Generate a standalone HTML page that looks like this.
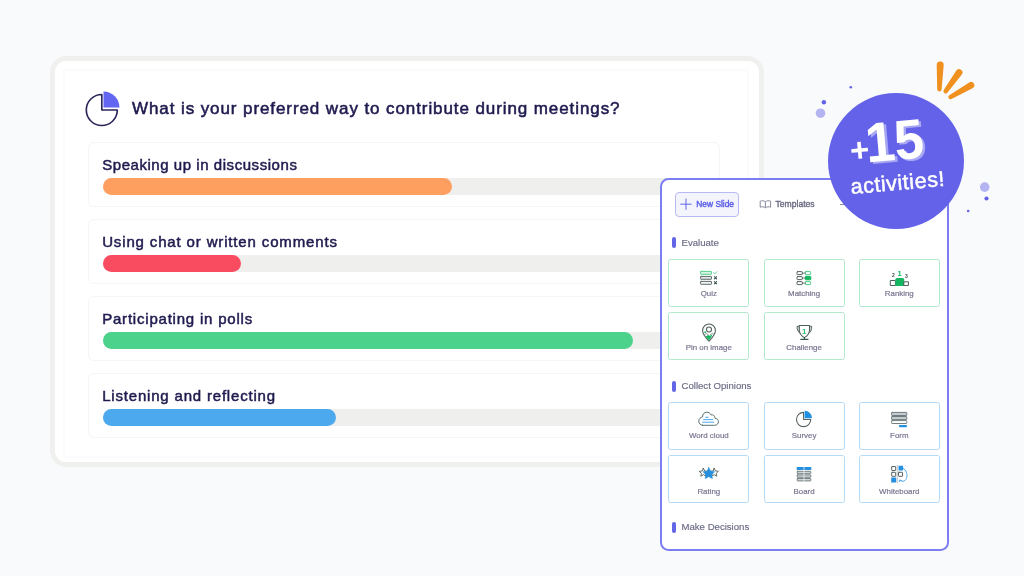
<!DOCTYPE html>
<html lang="en">
<head>
<meta charset="utf-8">
<title>+15 activities</title>
<style>
*{box-sizing:border-box;margin:0;padding:0}
html,body{width:1024px;height:576px;overflow:hidden}
body{background:#f9fafc;font-family:"Liberation Sans",sans-serif;position:relative}
.abs{position:absolute}
.root{position:absolute;left:0;top:0;width:1024px;height:576px;overflow:hidden;will-change:transform}
/* results card */
.card{position:absolute;left:50px;top:56px;width:714px;height:411px;border:5px solid #f0f0ee;border-radius:16px;background:#fff}
.inner{position:absolute;left:63px;top:69px;width:686px;height:388.5px;border:2px solid #fafbfc;border-radius:2px}
.title{position:absolute;left:132px;top:97px;font-weight:normal;font-size:17px;line-height:24px;color:#1f1b4f;-webkit-text-stroke:0.55px #1f1b4f;letter-spacing:0.91px;white-space:nowrap}
.opt{position:absolute;left:87.5px;width:632.5px;height:65px;border:1px solid #f5f5f2;border-radius:6px;background:#fff}
.opt .lbl{position:absolute;left:13.7px;top:11.8px;font-weight:normal;font-size:15px;line-height:20px;color:#1f1b4f;-webkit-text-stroke:0.5px #1f1b4f;white-space:nowrap}
.opt .track{position:absolute;left:14px;top:35px;width:603px;height:17px;border-radius:8.5px;background:#efefed}
.opt .fill{position:absolute;left:0;top:0;height:17px;border-radius:8.5px}
/* panel */
.panel{position:absolute;left:659.5px;top:177.5px;width:289.5px;height:373px;border:2px solid #7b7df0;border-radius:8.5px;background:#fff}
.btn{position:absolute;left:675px;top:192px;width:64px;height:24.5px;border:1px solid #b9baf3;border-radius:4px;background:#f4f4fd}
.btntxt{position:absolute;left:696.3px;top:198.2px;font-size:8.4px;font-weight:normal;color:#5b5ee6;-webkit-text-stroke:0.4px #5b5ee6;line-height:12px;white-space:nowrap}
.tpl{position:absolute;left:775.5px;top:197.8px;font-size:8.6px;font-weight:normal;color:#6a6a82;-webkit-text-stroke:0.35px #6a6a82;line-height:12px;white-space:nowrap}
.sec{position:absolute;left:672px;width:3.7px;height:11px;border-radius:2px;background:#6366e6}
.sect{position:absolute;left:681.5px;font-size:9.6px;color:#6a6a84;-webkit-text-stroke:0.15px #6a6a84;line-height:12px;white-space:nowrap}
.tile{position:absolute;width:81px;height:48px;border:1px solid #b2e9cd;border-radius:2.5px;background:#fff}
.tile.b{border-color:#b4daf6}
.tl{position:absolute;font-size:7.9px;color:#787690;-webkit-text-stroke:0.2px #787690;line-height:10px;white-space:nowrap;text-align:center;width:80px}
/* badge */
.badge{position:absolute;left:828px;top:92.8px;width:135.8px;height:135.8px;border-radius:50%;background:#6462e8}
</style>
</head>
<body>
<div class="root">
<div class="card"></div>
<div class="inner"></div>

<svg class="abs" style="left:80px;top:86px" width="44" height="44" viewBox="80 86 44 44">
  <path d="M101.8 94.5 A15.5 15.5 0 1 0 117.3 110 L101.8 110 Z" fill="none" stroke="#2b2659" stroke-width="1.65" stroke-linejoin="round"/>
  <path d="M103.5 91.5 A16 16 0 0 1 119.5 107.5 L103.5 107.5 Z" fill="#6366f1"/>
</svg>
<div class="title">What is your preferred way to contribute during meetings?</div>

<div class="opt" style="top:142px"><div class="lbl" style="letter-spacing:0.55px">Speaking up in discussions</div><div class="track"><div class="fill" style="width:349.5px;background:#fe9f60"></div></div></div>
<div class="opt" style="top:219px"><div class="lbl" style="letter-spacing:0.85px">Using chat or written comments</div><div class="track"><div class="fill" style="width:138.2px;background:#f94c61"></div></div></div>
<div class="opt" style="top:296px"><div class="lbl" style="letter-spacing:0.79px">Participating in polls</div><div class="track"><div class="fill" style="width:530px;background:#4cd28b"></div></div></div>
<div class="opt" style="top:373px"><div class="lbl" style="letter-spacing:0.81px">Listening and reflecting</div><div class="track"><div class="fill" style="width:233.5px;background:#4ca9ee"></div></div></div>

<div class="panel"></div>
<div class="btn"></div>
<svg class="abs" style="left:679px;top:198px" width="14" height="13" viewBox="0 0 14 13"><path d="M1.3 6.2H12.6M7 0.6V11.8" stroke="#6366e6" stroke-width="1" fill="none"/></svg>
<div class="btntxt">New Slide</div>
<svg class="abs" style="left:759px;top:199px" width="13" height="10" viewBox="0 0 13 10"><path d="M1.2 2.2C3 1.4 5 1.6 6.4 2.8C7.8 1.6 9.8 1.4 11.6 2.2V8.2C9.8 7.5 7.8 7.7 6.4 8.8C5 7.7 3 7.5 1.2 8.2Z M6.4 2.8V8.8" stroke="#7c7c92" stroke-width="0.9" fill="none" stroke-linejoin="round"/></svg>
<div class="tpl">Templates</div>
<div class="abs" style="left:840px;top:203.5px;width:9px;height:1px;background:#8a8a99"></div>

<div class="sec" style="top:237.2px"></div><div class="sect" style="top:236.8px">Evaluate</div>
<div class="tile" style="left:668px;top:259px"></div>
<div class="tile" style="left:764px;top:259px"></div>
<div class="tile" style="left:859px;top:259px"></div>
<div class="tile" style="left:668px;top:312px"></div>
<div class="tile" style="left:764px;top:312px"></div>
<div class="tl" style="left:668.8px;top:288.5px">Quiz</div>
<div class="tl" style="left:764.1px;top:288.5px">Matching</div>
<div class="tl" style="left:859.3px;top:288.5px">Ranking</div>
<div class="tl" style="left:668.8px;top:343px">Pin on image</div>
<div class="tl" style="left:764.1px;top:342.6px">Challenge</div>

<div class="sec" style="top:380.5px"></div><div class="sect" style="top:379.6px">Collect Opinions</div>
<div class="tile b" style="left:668px;top:402px"></div>
<div class="tile b" style="left:764px;top:402px"></div>
<div class="tile b" style="left:859px;top:402px"></div>
<div class="tile b" style="left:668px;top:455px"></div>
<div class="tile b" style="left:764px;top:455px"></div>
<div class="tile b" style="left:859px;top:455px"></div>
<div class="tl" style="left:668.8px;top:431px">Word cloud</div>
<div class="tl" style="left:764.1px;top:431px">Survey</div>
<div class="tl" style="left:859.3px;top:431px">Form</div>
<div class="tl" style="left:668.8px;top:487.2px">Rating</div>
<div class="tl" style="left:764.1px;top:487.2px">Board</div>
<div class="tl" style="left:859.3px;top:487.2px">Whiteboard</div>

<div class="sec" style="top:521.6px"></div><div class="sect" style="top:520.8px">Make Decisions</div>

<svg class="abs" style="left:0;top:0" width="1024" height="576" viewBox="0 0 1024 576" fill="none">
<g stroke-width="1" stroke-linejoin="round" stroke-linecap="round">
<!-- Quiz -->
<rect x="700.6" y="271.4" width="10.9" height="2.9" rx="0.5" fill="#d6f4e4" stroke="#4fcf89" stroke-width="0.95"/>
<rect x="700.6" y="276.4" width="10.9" height="2.9" rx="0.5" fill="#dde2e3" stroke="#5b6664" stroke-width="0.95"/>
<rect x="700.6" y="281.4" width="10.9" height="2.9" rx="0.5" fill="#f1f4f4" stroke="#5b6664" stroke-width="0.95"/>
<path d="M713.5 272.8L714.7 273.9L716.8 271.8" stroke="#4fcf89" stroke-width="0.95"/>
<path d="M714.4 276.7L716.6 278.9M716.6 276.7L714.4 278.9M714.4 281.6L716.6 283.8M716.6 281.6L714.4 283.8" stroke="#34504a" stroke-width="1.05"/>
<!-- Matching -->
<rect x="797" y="271.6" width="5.3" height="3" rx="0.6" fill="#fff" stroke="#56625f"/>
<rect x="797" y="276.6" width="5.3" height="3" rx="0.6" fill="#fff" stroke="#56625f"/>
<rect x="797" y="281.6" width="5.3" height="3" rx="0.6" fill="#fff" stroke="#56625f"/>
<rect x="805.3" y="271.6" width="5.3" height="3" rx="0.6" fill="#fff" stroke="#4fcf89"/>
<rect x="805.3" y="276.4" width="5.5" height="3.4" rx="0.6" fill="#14b760" stroke="#14b760"/>
<rect x="805.3" y="281.6" width="5.3" height="3" rx="0.6" fill="#fff" stroke="#4fcf89"/>
<path d="M802.3 273.1H805.3M802.3 278.1H805.3M802.3 283.1H805.3" stroke="#56625f" stroke-width="0.8"/>
<!-- Ranking -->
<rect x="890.7" y="280.5" width="4.7" height="5" fill="#fff" stroke="#4f5f5a"/>
<path d="M895.4 286V279.6Q895.4 278.1 896.9 278.1H902.7Q904.2 278.1 904.2 279.6V286Z" fill="#14b760"/>
<rect x="904.2" y="281.8" width="4.2" height="3.7" fill="#fff" stroke="#4f5f5a"/>
<!-- Pin on image -->
<path d="M709 341.2C706.3 338.2 702.6 334.6 702.6 330.4A6.4 6.4 0 0 1 715.4 330.4C715.4 334.6 711.7 338.2 709 341.2Z" fill="#fff" stroke="#4f5f5a" stroke-width="1.05"/>
<path d="M705.6 336.4L708 334.9L709.6 335.8L712.6 334.4C711.6 336.6 710.6 338.2 709 340.2C707.6 338.8 706.5 337.6 705.6 336.4Z" fill="#14b760"/>
<path d="M704.2 335L706.4 333.6L708.2 334.6M710.4 334.6L712.4 333.3L713.6 334" stroke="#6b7a76" stroke-width="0.7"/>
<circle cx="709" cy="329.5" r="2.5" fill="#fff" stroke="#4f5f5a" stroke-width="1.05"/>
<circle cx="705.2" cy="332.2" r="0.9" fill="#14b760" stroke="none"/>
<!-- Challenge trophy -->
<path d="M799.3 326.3H797.1C796.9 329.6 798 332.1 800.4 333.7M809.5 326.3H811.7C811.9 329.6 810.8 332.1 808.4 333.7" fill="#d3d9d8" stroke="#4f5f5a" stroke-width="0.95"/>
<path d="M799.3 325.4H809.5V330C809.5 333.5 807 336.1 804.4 337.6C801.8 336.1 799.3 333.5 799.3 330Z" fill="#fff" stroke="#4f5f5a" stroke-width="1.05"/>
<path d="M804.4 337.6V339M800.8 339.3H808" stroke="#3b5a4f" stroke-width="1.3"/>
<!-- Word cloud -->
<path d="M702.6 425.3H714.6C716.9 425.3 718.4 423.7 718.4 421.7C718.4 419.7 716.9 418.3 715 418.3C715 415.8 713 414.3 711 414.9C710.2 413 708.5 412.2 706.8 412.2C704.3 412.2 702.5 414.1 702.6 416.9C700.4 417.3 698.8 418.9 698.8 421.1C698.8 423.5 700.5 425.3 702.6 425.3Z" fill="#fff" stroke="#587270" stroke-width="1"/>
<path d="M705.6 417.3H708.2M703.6 419.6H712.8M702.6 422.2H713.8" stroke="#3d9fe8" stroke-width="0.9"/>
<!-- Survey -->
<path d="M803.6 412.4A7.1 7.1 0 1 0 810.7 419.5H803.6Z" fill="#fff" stroke="#56625f" stroke-width="1.1"/>
<path d="M804.6 410.8A7.5 7.5 0 0 1 812.1 418.3H804.6Z" fill="#1f8fe0" stroke="none"/>
<!-- Form -->
<rect x="891.6" y="412.4" width="15.2" height="3.1" rx="0.6" fill="#c3ccd2" stroke="#63716f" stroke-width="0.9"/>
<rect x="891.6" y="416.5" width="15.2" height="3.1" rx="0.6" fill="#c3ccd2" stroke="#63716f" stroke-width="0.9"/>
<rect x="891.6" y="420.6" width="15.2" height="2.9" rx="0.6" fill="#fff" stroke="#63716f" stroke-width="0.9"/>
<rect x="898.8" y="425" width="8.3" height="2.2" rx="1.1" fill="#2590e0" stroke="none"/>
<!-- Rating -->
<path d="M703.4 468.3L704.7 471L707.6 471.3L705.4 473.3L706 476.2L703.4 474.7L700.8 476.2L701.4 473.3L699.2 471.3L702.1 471Z" fill="#fff" stroke="#4f5f5a" stroke-width="0.9"/>
<path d="M714.2 468.3L715.5 471L718.4 471.3L716.2 473.3L716.8 476.2L714.2 474.7L711.6 476.2L712.2 473.3L710 471.3L712.9 471Z" fill="#fff" stroke="#4f5f5a" stroke-width="0.9"/>
<path d="M708.8 467.6L710.6 471.3L714.6 471.8L711.7 474.6L712.4 478.6L708.8 476.7L705.2 478.6L705.9 474.6L703 471.8L707 471.3Z" fill="#2590e0" stroke="#2590e0" stroke-width="0.6"/>
<!-- Board -->
<rect x="796.7" y="467" width="14.6" height="2.9" rx="0.4" fill="#2590e0" stroke="none"/>
<rect x="797.2" y="471.3" width="13.6" height="2.4" rx="0.5" fill="#cfd6db" stroke="#63716f" stroke-width="0.85"/>
<rect x="797.2" y="474.9" width="13.6" height="2.4" rx="0.5" fill="#cfd6db" stroke="#63716f" stroke-width="0.85"/>
<rect x="797.2" y="478.5" width="13.6" height="2.4" rx="0.5" fill="#cfd6db" stroke="#63716f" stroke-width="0.85"/>
<path d="M804 466.8V481.3" stroke="#fff" stroke-width="0.7"/>
<!-- Whiteboard -->
<path d="M897.3 465.3V482.8" stroke="#c9cdd2" stroke-width="1.2"/>
<rect x="891.7" y="466.5" width="4" height="4" rx="0.5" fill="#fff" stroke="#56625f"/>
<rect x="891.7" y="472.3" width="4" height="4" rx="0.5" fill="#fff" stroke="#56625f"/>
<rect x="891.2" y="477.6" width="5" height="5" rx="0.3" fill="#2590e0" stroke="none"/>
<rect x="898.5" y="465.8" width="4.6" height="4.6" rx="0.3" fill="#2590e0" stroke="none"/>
<rect x="898.5" y="472.3" width="4" height="4" rx="0.5" fill="#fff" stroke="#56625f"/>
<path d="M903.2 468.4C906.3 470 907.4 474 906.8 477.4C906.1 480.8 902.6 482.6 899.8 480.2M899.4 481.6L899.9 480.1L901.4 480.5" stroke="#3d9fe8" stroke-width="0.9"/>
</g>
<g font-family="Liberation Sans, sans-serif" font-weight="bold" text-anchor="middle">
<text x="899.6" y="275.5" font-size="7.6" fill="#14b760">1</text>
<text x="893.3" y="276.8" font-size="5" fill="#3f4f4a">2</text>
<text x="906.5" y="278.4" font-size="5" fill="#3f4f4a">3</text>
<text x="804.2" y="334" font-size="8" fill="#2fbf72">1</text>
</g>
</svg>

<!-- badge -->
<div class="badge"></div>
<div class="abs" style="left:0;top:0;width:1024px;height:576px;transform-origin:895.9px 160.1px;transform:rotate(-5deg)">
  <div class="abs plus" style="left:851px;top:130px;font-size:33px;line-height:33px;font-weight:bold;color:#fff">+</div>
  <div class="abs" style="left:867px;top:113px;font-size:56px;line-height:56px;font-weight:bold;color:#fff;letter-spacing:-1px;transform:scaleX(0.95);transform-origin:0 0;text-shadow:2.5px 2px 0 #a7a7f3;white-space:nowrap">15</div>
  <div class="abs" style="left:848.5px;top:172.8px;font-size:21.5px;line-height:21.5px;letter-spacing:0.55px;color:#fff;-webkit-text-stroke:0.5px #fff;white-space:nowrap">activities!</div>
</div>
<svg class="abs" style="left:0;top:0" width="1024" height="576" viewBox="0 0 1024 576">
<g fill="#f0901f">
<path d="M936.70 65.07L937.20 89.25A2.2 2.2 0 0 0 941.59 89.39L943.69 65.30A3.5 3.5 0 1 0 936.70 65.07Z"/>
<path d="M956.14 70.77L943.75 90.11A2.2 2.2 0 0 0 947.32 92.67L961.66 74.72A3.4 3.4 0 1 0 956.14 70.77Z"/>
<path d="M969.22 82.42L949.32 95.15A2.2 2.2 0 0 0 951.51 98.96L972.51 88.13A3.3 3.3 0 1 0 969.22 82.42Z"/>
</g>
<circle cx="850.8" cy="87.3" r="1.3" fill="#6262e7"/>
<circle cx="823.9" cy="102.3" r="2.2" fill="#6262e7"/>
<circle cx="820.5" cy="113.2" r="4.8" fill="#b4b4f3"/>
<circle cx="984.7" cy="187.1" r="4.8" fill="#b4b4f3"/>
<circle cx="986.5" cy="198.5" r="2.1" fill="#6262e7"/>
<circle cx="968.2" cy="211" r="1.3" fill="#6262e7"/>
</svg>

</div>
</body>
</html>
